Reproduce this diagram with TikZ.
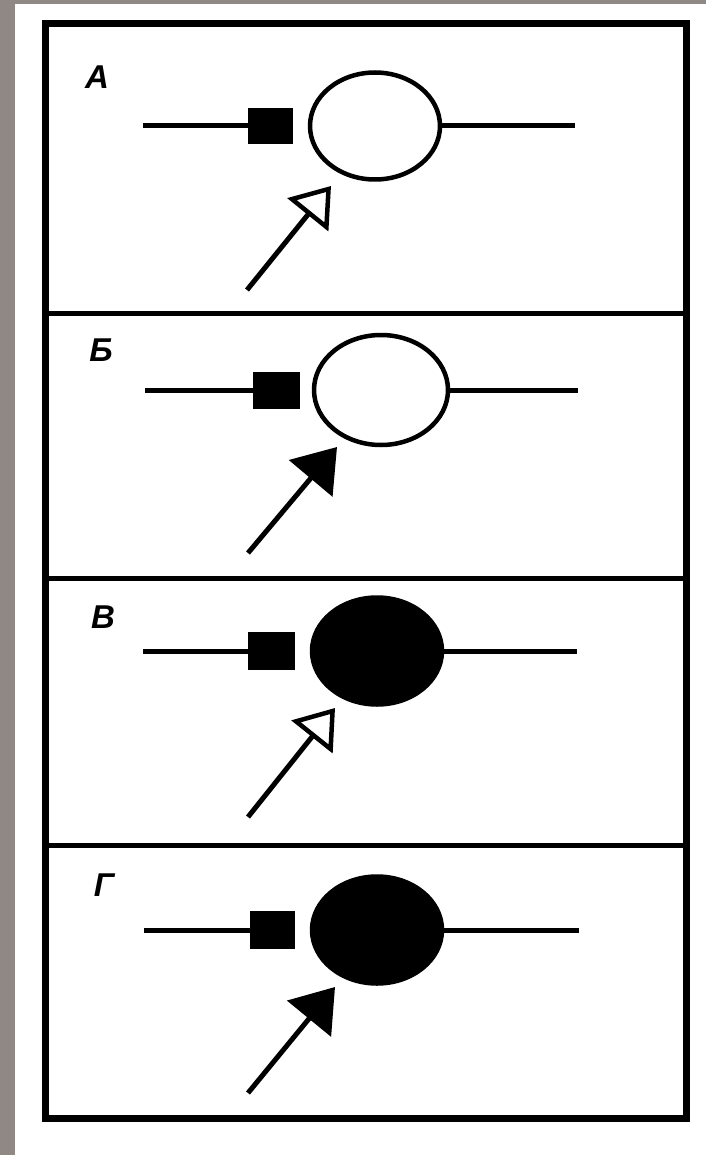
\documentclass[tikz,border=0pt]{standalone}
\usepackage{fontspec}
\setmainfont{Liberation Sans}
\usetikzlibrary{arrows.meta,shapes.geometric}
\definecolor{bggrey}{RGB}{143,136,132}
\begin{document}
\begin{tikzpicture}[x=1pt,y=-1pt,
  wire/.style={line width=5pt},
  blockbox/.style={rectangle, draw=none, fill=black, minimum width=45pt, minimum height=36pt, inner sep=0pt},
  cellbase/.style={ellipse, draw, line width=4.5pt, minimum width=130pt, minimum height=107pt, inner sep=0pt},
  cellopen/.style={cellbase, fill=white},
  cellfull/.style={cellbase, fill=black},
  openptr/.style={line width=5pt, -{Triangle[open, length=37pt, width=52pt, line width=4.5pt]}},
  fullptr/.style={line width=5pt, -{Triangle[length=41pt, width=56pt]}},
  panellabel/.style={font=\fontsize{33}{33}\selectfont\bfseries\itshape, inner sep=0pt},
  framebox/.style={line width=7pt},
  divider/.style={line width=5pt}
]
\useasboundingbox (0,0) rectangle (706,1155);
\fill[bggrey] (0,0) rectangle (706,1155);
\fill[white] (15,4) rectangle (706,1155);

% frame and dividers
\draw[framebox] (45,24) rectangle (686,1118);
\draw[divider] (45,313) -- (686,313);
\draw[divider] (45,578) -- (686,578);
\draw[divider] (45,845) -- (686,845);

% Panel A
\node[panellabel] (labA) at (97,77) {А};
\node[blockbox] (sqA) at (270.5,126) {};
\node[cellopen] (cA) at (375,126) {};
\coordinate (lA) at (143,126);
\coordinate (rA) at (575,126);
\draw[wire] (lA) -- (sqA.west);
\draw[wire] (cA.east) -- (rA);
\coordinate (sA) at (247,290);
\coordinate (tA) at (331,186);
\draw[openptr] (sA) -- (tA);

% Panel B
\node[panellabel] (labB) at (101,350) {Б};
\node[blockbox, minimum width=47pt, minimum height=37pt] (sqB) at (276.5,390) {};
\node[cellopen, minimum width=134pt, minimum height=110pt] (cB) at (381,390) {};
\coordinate (lB) at (145,390);
\coordinate (rB) at (578,390);
\draw[wire] (lB) -- (sqB.west);
\draw[wire] (cB.east) -- (rB);
\coordinate (sB) at (248,553);
\coordinate (tB) at (337,447);
\draw[fullptr] (sB) -- (tB);

% Panel V
\node[panellabel] (labV) at (103,617) {В};
\node[blockbox, minimum width=47pt, minimum height=38pt] (sqV) at (271.5,651) {};
\node[cellfull] (cV) at (377,651) {};
\coordinate (lV) at (143,651);
\coordinate (rV) at (577,651);
\draw[wire] (lV) -- (sqV.west);
\draw[wire] (cV.east) -- (rV);
\coordinate (sV) at (248,817);
\coordinate (tV) at (335,708);
\draw[openptr] (sV) -- (tV);

% Panel G
\node[panellabel] (labG) at (104,885) {Г};
\node[blockbox, minimum height=38pt] (sqG) at (272.5,930) {};
\node[cellfull] (cG) at (377,930) {};
\coordinate (lG) at (144,930);
\coordinate (rG) at (579,930);
\draw[wire] (lG) -- (sqG.west);
\draw[wire] (cG.east) -- (rG);
\coordinate (sG) at (248,1093);
\coordinate (tG) at (335,987);
\draw[fullptr] (sG) -- (tG);
\end{tikzpicture}
\end{document}
